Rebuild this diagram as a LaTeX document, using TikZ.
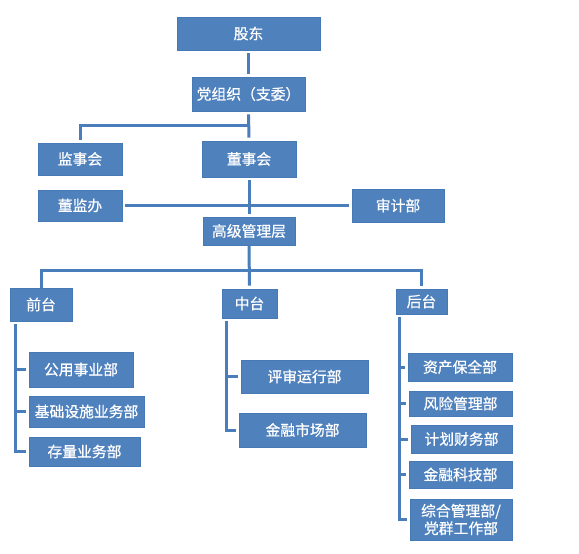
\documentclass[tikz,border=0pt]{standalone}
\usepackage{fontspec}
\newfontfamily\cjk[FakeBold=0.6]{Noto Sans CJK SC}
\definecolor{boxblue}{HTML}{4F81BD}
\definecolor{boxedge}{HTML}{467AB6}
\definecolor{linkblue}{HTML}{4A7EBB}
\begin{document}
\begin{tikzpicture}[x=1pt,y=-1pt,
  box/.style={rectangle,fill=boxblue,draw=boxedge,line width=0.6pt,inner sep=0pt,
    text=white,font=\cjk\fontsize{14.8}{19}\selectfont,align=center},
  conn/.style={draw=linkblue,line width=3pt,shorten <=3pt,shorten >=3pt},
  tick/.style={draw=linkblue,line width=3pt,shorten >=3pt}]
\fill[white] (0,0) rectangle (579,554);
\useasboundingbox (0,0) rectangle (579,554);
% top part
\node[box,minimum width=143pt,minimum height=33pt] (gd) at (248.5,33.5) {股东};
\node[box,minimum width=113pt,minimum height=34pt] (dzz) at (248.5,94) {党组织（支委）};
\node[box,minimum width=84pt,minimum height=32pt] (jsh) at (80,159) {监事会};
\node[box,minimum width=94pt,minimum height=36pt] (dsh) at (249,159) {董事会};
\node[box,minimum width=84pt,minimum height=31pt] (djb) at (80,205.5) {董监办};
\node[box,minimum width=92pt,minimum height=33pt] (sjb) at (398,205.5) {审计部};
\node[box,minimum width=92pt,minimum height=28pt] (gj) at (249,231) {高级管理层};
% platforms
\node[box,minimum width=62pt,minimum height=33pt] (qt) at (41,304.5) {前台};
\node[box,minimum width=55pt,minimum height=29pt] (zt) at (249.5,303.5) {中台};
\node[box,minimum width=51pt,minimum height=25pt] (ht) at (421.5,301.5) {后台};
% front
\node[box,minimum width=104pt,minimum height=35pt] (gy) at (81,369.5) {公用事业部};
\node[box,minimum width=115pt,minimum height=31pt] (jc) at (86.5,411.5) {基础设施业务部};
\node[box,minimum width=111pt,minimum height=29pt] (cl) at (84.5,451.5) {存量业务部};
% middle
\node[box,minimum width=127pt,minimum height=33pt] (ps) at (304.5,376.5) {评审运行部};
\node[box,minimum width=127pt,minimum height=34pt] (jr) at (302.5,430) {金融市场部};
% back
\node[box,minimum width=104pt,minimum height=28pt] (zc) at (460,367) {资产保全部};
\node[box,minimum width=103pt,minimum height=25pt] (fx) at (460.5,403.5) {风险管理部};
\node[box,minimum width=101pt,minimum height=28pt] (jh) at (461.5,439) {计划财务部};
\node[box,minimum width=103pt,minimum height=27pt] (kj) at (460.5,474.5) {金融科技部};
\node[box,minimum width=102pt,minimum height=41pt,font=\cjk\fontsize{14.8}{17.5}\selectfont] (zh) at (461,519.5) {综合管理部/\\党群工作部};
% coordinates
\coordinate (j1) at (249,125);
\coordinate (j2) at (249,270);
\coordinate (L) at (15,0);
\coordinate (M) at (226,0);
\coordinate (R) at (399,0);
% connectors
\draw[conn] (gd.south) -- (dzz.north);
\draw[conn] (dzz.south) -- (dsh.north);
\draw[tick,line join=miter] (j1) -| (jsh.north);
\draw[conn] (dsh.south) -- (gj.north);
\draw[conn] (djb.east) -- (sjb.west);
\draw[tick] (gj.south) -- (zt.north);
\draw[conn,shorten <=0pt,line join=miter] (qt.north) |- (j2) -| (ht.north);
% front bracket
\draw[conn,line join=miter] (qt.south -| L) -- (L |- cl.west) -- (cl.west);
\draw[tick] (L |- gy.west) -- (gy.west);
\draw[tick] (L |- jc.west) -- (jc.west);
% middle bracket
\draw[conn,line join=miter] (zt.south -| M) -- (M |- jr.west) -- (jr.west);
\draw[tick] (M |- ps.west) -- (ps.west);
% back bracket
\draw[conn,line join=miter] (ht.south -| R) -- (R |- zh.west) -- (zh.west);
\draw[tick] (R |- zc.west) -- (zc.west);
\draw[tick] (R |- fx.west) -- (fx.west);
\draw[tick] (R |- jh.west) -- (jh.west);
\draw[tick] (R |- kj.west) -- (kj.west);
\end{tikzpicture}
\end{document}
